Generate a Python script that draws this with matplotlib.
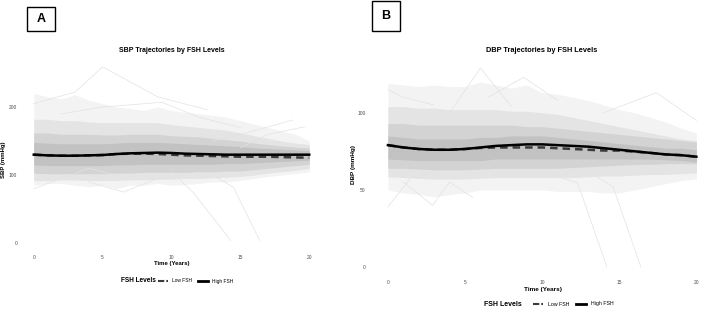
import matplotlib
matplotlib.use("Agg")
import matplotlib.pyplot as plt
from matplotlib.lines import Line2D
from matplotlib.patches import Rectangle
import numpy as np

plt.rcParams['font.family'] = ['Liberation Sans', 'DejaVu Sans']

years = np.arange(0, 21)

# SBP: smoothed group means (mmHg)
sbp_high = [130, 129, 128.5, 128.5, 129, 129.5, 131, 132, 132.5, 133, 132.5,
            131.5, 131, 130.5, 130, 130, 130, 130, 130, 130, 130]
sbp_low = [130, 129, 128.5, 128.5, 129, 129.5, 131, 131.5, 131.5, 131, 130,
           129, 128.5, 128, 127.5, 127, 127, 127, 126.5, 126, 125.5]
# SBP: spread of individual trajectories (outer / mid / core / inner envelopes)
sbp_outer_hi = [220, 215, 212, 218, 210, 205, 200, 198, 195, 200, 195, 192, 190, 188, 185, 180, 175, 170, 165, 160, 150]
sbp_outer_lo = [85, 88, 88, 85, 83, 85, 80, 85, 85, 88, 85, 86, 88, 90, 90, 92, 95, 98, 100, 102, 105]
sbp_mid_hi = [182, 182, 180, 180, 178, 177, 177, 177, 177, 177, 174, 172, 170, 168, 166, 162, 158, 154, 150, 147, 145]
sbp_mid_lo = [92, 92, 93, 93, 92, 92, 92, 93, 93, 94, 94, 95, 95, 96, 97, 98, 100, 103, 105, 107, 110]
sbp_core_hi = [162, 162, 160, 160, 160, 159, 159, 160, 160, 160, 158, 157, 156, 154, 152, 150, 147, 145, 143, 141, 140]
sbp_core_lo = [103, 102, 102, 102, 102, 102, 103, 103, 104, 104, 104, 104, 105, 105, 106, 106, 108, 110, 112, 114, 116]
sbp_inner_hi = [148, 147, 146, 146, 146, 146, 147, 148, 148, 148, 147, 146, 145, 144, 143, 142, 140, 139, 138, 137, 136]
sbp_inner_lo = [115, 114, 114, 114, 114, 114, 115, 115, 116, 116, 116, 116, 116, 116, 117, 117, 118, 119, 120, 121, 122]
# SBP: visible stray trajectories (time, value)
sbp_stray = [
    ([0, 3, 5, 9, 12.6], [205, 222, 259, 215, 196]),
    ([2, 5, 9.3, 12, 15], [190, 200, 207, 185, 170]),
    ([4, 6.5, 9, 11], [90, 75, 95, 100]),
    ([10, 11.6, 14.3], [105, 74, 4]),
    ([13, 14.5, 16.4], [100, 82, 4]),
    ([13, 16, 18.8], [150, 165, 181]),
    ([15, 17, 19.7], [140, 160, 171]),
    ([0, 2, 4, 6], [80, 95, 110, 100]),
]

# DBP: smoothed group means (mmHg)
dbp_high = [79, 77.5, 76.5, 76, 76, 76.5, 77.5, 78.5, 79, 79.5, 79.5,
            79, 78.5, 78, 77, 76, 75, 74, 73, 72.5, 71.5]
dbp_low = [79, 77.5, 76.5, 76, 76, 76.5, 77.2, 77.5, 77.5, 77.5, 77.5,
           77, 76.5, 76, 75.5, 75.5, 74.8, 74, 73, 72.5, 71.5]
dbp_outer_hi = [119, 118, 117, 118, 117, 117, 120, 118, 116, 118, 113, 112, 110, 108, 105, 102, 100, 97, 94, 90, 87]
dbp_outer_lo = [50, 48, 47, 45.5, 47, 48, 50, 50, 50, 50, 50, 49, 49, 49, 48, 48, 50, 52, 54, 56, 57]
dbp_mid_hi = [104, 104, 103, 103, 102, 102, 102, 102, 101, 101, 100, 99, 97, 95, 93, 91, 89, 87, 85, 83, 82]
dbp_mid_lo = [58.5, 58, 57.5, 57, 57, 57, 57.5, 58, 58, 58, 58, 58, 58, 58.5, 59, 59, 59.5, 60, 60, 60.5, 61]
dbp_core_hi = [93, 93, 92, 92, 92, 92, 92, 92, 92, 91, 91, 90, 89, 88, 87, 86, 85, 84, 83, 82, 81]
dbp_core_lo = [64, 64, 63.5, 63, 63, 63, 63.5, 64, 64, 64, 64, 64, 64.5, 65, 65.5, 66, 66.5, 66.5, 67, 67, 67]
dbp_inner_hi = [85, 84, 83, 83, 83, 83, 84, 84, 85, 85, 85, 84, 83, 82, 81, 80, 79, 78, 77, 77, 76]
dbp_inner_lo = [70, 69.5, 69, 69, 69, 69, 69, 70, 70, 70, 70, 70, 70, 70, 70, 70, 70, 70, 69.5, 69, 68]
dbp_stray = [
    ([0, 1.5, 3], [39, 58, 62]),
    ([1, 2.9, 4, 5.5], [55, 40, 55, 45]),
    ([4, 6, 8], [100, 129, 104]),
    ([6.5, 8.8, 11], [110, 123, 108]),
    ([10, 12.3, 14.2], [62, 54.5, 0]),
    ([13, 14.6, 16.4], [62, 52, 0]),
    ([14, 17.4, 20], [100, 113, 95]),
    ([0, 1, 3], [115, 110, 105]),
]

W, H = 702, 314
fig = plt.figure(figsize=(W / 100, H / 100), dpi=100)


def px_axes(x0, y0, x1, y1):
    return fig.add_axes([x0 / W, 1 - y1 / H, (x1 - x0) / W, (y1 - y0) / H])


def draw_panel(ax, bands, stray, low, high):
    shades = ['#f3f3f3', '#e4e4e4', '#d3d3d3', '#c2c2c2']
    for (lo, hi), c in zip(bands, shades):
        ax.fill_between(years, lo, hi, color=c, lw=0)
    for t, v in stray:
        ax.plot(t, v, color='#e2e2e2', lw=0.5)
    ax.plot(years, low, color='#3a3a3a', lw=1.8, ls=(0, (3, 2)))
    ax.plot(years, high, color='black', lw=1.8)
    for s in ax.spines.values():
        s.set_visible(False)
    ax.tick_params(length=0, labelsize=3.5, labelcolor='#4d4d4d')
    ax.set_xticks([0, 5, 10, 15, 20])


axA = px_axes(20, 56, 323, 252)
draw_panel(axA, [(sbp_outer_lo, sbp_outer_hi), (sbp_mid_lo, sbp_mid_hi),
                 (sbp_core_lo, sbp_core_hi), (sbp_inner_lo, sbp_inner_hi)],
           sbp_stray, sbp_low, sbp_high)
axA.set_xlim(-1, 21)
axA.set_ylim(-13, 275)
axA.set_yticks([0, 100, 200])
axA.tick_params(axis='y', pad=2)
axA.tick_params(axis='x', pad=2)

axB = px_axes(372.5, 58, 701, 277)
draw_panel(axB, [(dbp_outer_lo, dbp_outer_hi), (dbp_mid_lo, dbp_mid_hi),
                 (dbp_core_lo, dbp_core_hi), (dbp_inner_lo, dbp_inner_hi)],
           dbp_stray, dbp_low, dbp_high)
axB.set_xlim(-1, 20.3)
axB.set_ylim(-6.5, 135.5)
axB.set_yticks([0, 50, 100])
axB.tick_params(axis='y', pad=5)
axB.tick_params(axis='x', pad=2)

# titles and axis labels
fig.text(172 / W, 1 - 50 / H, 'SBP Trajectories by FSH Levels', ha='center', va='center',
         fontsize=5, fontweight='bold')
fig.text(542 / W, 1 - 50 / H, 'DBP Trajectories by FSH Levels', ha='center', va='center',
         fontsize=5.3, fontweight='bold')
fig.text(172 / W, 1 - 263 / H, 'Time (Years)', ha='center', va='center', fontsize=4.3, fontweight='bold')
fig.text(543 / W, 1 - 289 / H, 'Time (Years)', ha='center', va='center', fontsize=4.6, fontweight='bold')
fig.text(4 / W, 1 - 160 / H, 'SBP (mmHg)', ha='center', va='center', rotation=90, fontsize=4.3, fontweight='bold')
fig.text(354 / W, 1 - 165 / H, 'DBP (mmHg)', ha='center', va='center', rotation=90, fontsize=4.6, fontweight='bold')

# panel letters
for x0, y0, x1, y1, letter in [(27, 7, 55, 31, 'A'), (372, 1, 400, 31, 'B')]:
    fig.patches.append(Rectangle((x0 / W, 1 - y1 / H), (x1 - x0) / W, (y1 - y0) / H,
                                 transform=fig.transFigure, fill=False, ec='black', lw=1))
    fig.text((x0 + x1) / 2 / W, 1 - (y0 + y1) / 2 / H, letter, ha='center', va='center',
             fontsize=9, fontweight='bold')

# legends
handles = [Line2D([], [], color='#3a3a3a', lw=1.5, ls=(0, (3, 1))),
           Line2D([], [], color='black', lw=2)]
labels = ['Low FSH', 'High FSH']
for cx, cy, tx, fs in [(196, 281, 138, 3.5), (573, 304, 503, 3.8)]:
    fig.text(tx / W, 1 - cy / H, 'FSH Levels', ha='center', va='center', fontsize=fs + 1.2, fontweight='bold')
    fig.legend(handles, labels, loc='center', bbox_to_anchor=(cx / W, 1 - cy / H), ncol=2,
               frameon=False, fontsize=fs, handlelength=2.0, handletextpad=0.9, columnspacing=1.2)

fig.savefig('out.png', dpi=100)
